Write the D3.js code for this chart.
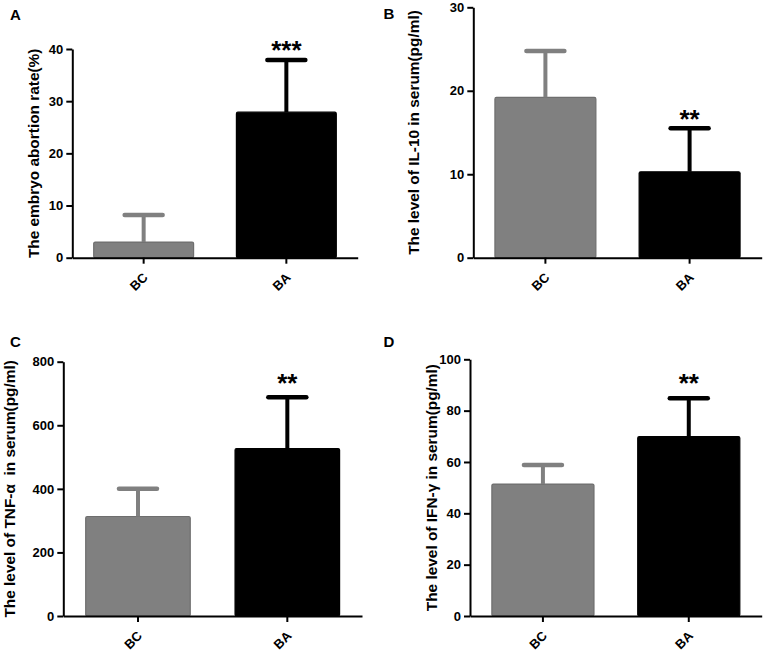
<!DOCTYPE html>
<html>
<head>
<meta charset="utf-8">
<script src="https://cdn.jsdelivr.net/npm/d3@7"></script>
<style>
  body { margin: 0; background: #fff; }
  svg { font-family: "Liberation Sans", Arial, sans-serif; font-weight: bold; }
  .axis path, .axis line { stroke: #000; stroke-width: 2; }
  .axis text { font-family: "Liberation Sans", Arial, sans-serif; font-size: 13px; font-weight: bold; fill: #000; }
</style>
</head>
<body>
<svg id="chart"></svg>
<script>
// Groups shared by all four panels
const groups = ['BC', 'BA'];

// A: embryo abortion rate (%)
const abortionMean = [3.0, 27.9];
const abortionSd = [5.2, 10.0];
const abortionTicks = [0, 10, 20, 30, 40];

// B: IL-10 (pg/ml)
const il10Mean = [19.2, 10.3];
const il10Sd = [5.55, 5.2];
const il10Ticks = [0, 10, 20, 30];

// C: TNF-α (pg/ml)
const tnfMean = [313, 527];
const tnfSd = [87, 161];
const tnfTicks = [0, 200, 400, 600, 800];

// D: IFN-γ (pg/ml)
const ifnMean = [51.4, 69.9];
const ifnSd = [7.4, 14.9];
const ifnTicks = [0, 20, 40, 60, 80, 100];

const colors = ['#808080', '#000000'];

const panels = [
  { letter: 'A', lx: 10, ly: 20, x0: 72.3, x1: 357.7, yTop: 49, yBot: 257.7, labelX: 38.5,
    mean: abortionMean, sd: abortionSd, ticks: abortionTicks, stars: '***', starGap: 1,
    label: 'The embryo abortion rate(%)' },
  { letter: 'B', lx: 383.5, ly: 19, x0: 473.3, x1: 761.7, yTop: 7.3, yBot: 257.7, labelX: 419,
    mean: il10Mean, sd: il10Sd, ticks: il10Ticks, stars: '**', starGap: 0,
    label: 'The level of IL-10 in serum(pg/ml)' },
  { letter: 'C', lx: 10, ly: 346.7, x0: 63.3, x1: 362, yTop: 361.7, yBot: 616, labelX: 14.7,
    mean: tnfMean, sd: tnfSd, ticks: tnfTicks, stars: '**', starGap: 5,
    label: 'The level of TNF-\u03b1  in serum(pg/ml)' },
  { letter: 'D', lx: 383.5, ly: 346.7, x0: 470, x1: 761.7, yTop: 359.3, yBot: 616, labelX: 436.8,
    mean: ifnMean, sd: ifnSd, ticks: ifnTicks, stars: '**', starGap: 6,
    label: 'The level of IFN-\u03b3 in serum(pg/ml)' }
];

const svg = d3.select('#chart')
  .attr('width', 765)
  .attr('height', 654);

panels.forEach(p => {
  const g = svg.append('g');
  const data = groups.map((k, i) => ({ key: k, mean: p.mean[i], sd: p.sd[i], color: colors[i] }));

  const x = d3.scaleBand()
    .domain(groups)
    .range([p.x0, p.x1])
    .paddingInner(0.3)
    .paddingOuter(0.15);

  const y = d3.scaleLinear()
    .domain([0, d3.max(p.ticks)])
    .range([p.yBot, p.yTop]);

  // bars
  g.selectAll('.bar')
    .data(data)
    .join('rect')
    .attr('class', 'bar')
    .attr('x', d => x(d.key))
    .attr('width', x.bandwidth())
    .attr('y', d => y(d.mean))
    .attr('height', d => y(0) - y(d.mean))
    .attr('rx', 1.5)
    .attr('fill', d => d.color)
    .attr('stroke', d => d.key === 'BC' ? '#6e6e6e' : '#000')
    .attr('stroke-width', 1.2);

  // error bars (upper only)
  const cx = d => x(d.key) + x.bandwidth() / 2;
  g.selectAll('.err')
    .data(data)
    .join('line')
    .attr('x1', cx).attr('x2', cx)
    .attr('y1', d => y(d.mean))
    .attr('y2', d => y(d.mean + d.sd))
    .attr('stroke', d => d.color)
    .attr('stroke-width', 4);

  g.selectAll('.cap')
    .data(data)
    .join('line')
    .attr('x1', d => cx(d) - 19).attr('x2', d => cx(d) + 19)
    .attr('y1', d => y(d.mean + d.sd))
    .attr('y2', d => y(d.mean + d.sd))
    .attr('stroke', d => d.color)
    .attr('stroke-width', 4.5)
    .attr('stroke-linecap', 'round');

  // significance stars over BA
  const ba = data[1];
  g.append('text')
    .attr('x', cx(ba))
    .attr('y', y(ba.mean + ba.sd) - p.starGap)
    .attr('text-anchor', 'middle')
    .style('font-size', '26px')
    .text(p.stars);

  // axes
  g.append('g')
    .attr('class', 'axis')
    .attr('transform', `translate(${p.x0},0)`)
    .call(d3.axisLeft(y).tickValues(p.ticks).tickSize(6).tickPadding(3).tickSizeOuter(0));

  g.append('g')
    .attr('class', 'axis')
    .attr('transform', `translate(0,${p.yBot})`)
    .call(d3.axisBottom(x).tickSize(6).tickSizeOuter(0))
    .selectAll('text')
    .attr('x', 0).attr('y', 0).attr('dy', 0)
    .attr('transform', 'translate(5,20.6) rotate(-45)')
    .style('text-anchor', 'end');

  // y label
  g.append('text')
    .attr('transform', `translate(${p.labelX},${(p.yTop + p.yBot) / 2}) rotate(-90)`)
    .attr('text-anchor', 'middle')
    .style('font-size', '15.4px')
    .style('white-space', 'pre')
    .text(p.label);

  // panel letter
  g.append('text')
    .attr('x', p.lx)
    .attr('y', p.ly)
    .style('font-size', '15px')
    .text(p.letter);
});
</script>
</body>
</html>
